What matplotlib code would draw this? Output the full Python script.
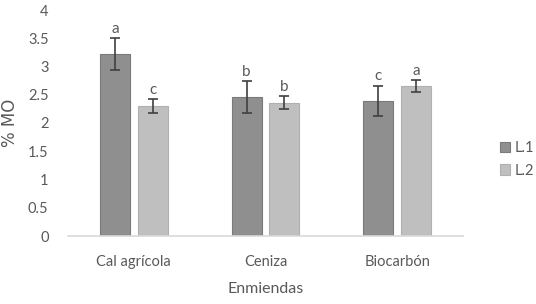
import matplotlib
matplotlib.use("Agg")
import matplotlib.pyplot as plt
import numpy as np

plt.rcParams['font.family'] = ['Lato', 'DejaVu Sans']

categories = ["Cal agrícola", "Ceniza", "Biocarbón"]
series_names = ["L.1", "L.2"]
l1_values = [3.22, 2.46, 2.39]
l2_values = [2.30, 2.36, 2.65]
l1_err = [0.28, 0.28, 0.27]
l2_err = [0.12, 0.11, 0.11]
l1_letters = ["a", "b", "c"]
l2_letters = ["c", "b", "a"]
y_ticks = [0, 0.5, 1, 1.5, 2, 2.5, 3, 3.5, 4]

txt = "#595959"
fig = plt.figure(figsize=(5.36, 3.04), dpi=100)
ax = fig.add_axes([68/536, 68/304, (463-68)/536, (236-10)/304])

x = np.arange(len(categories))
w = 0.228
off = 0.144
colors = ["#8f8f8f", "#bfbfbf"]
edges = ["#7a7a7a", "#b0b0b0"]

for vals, errs, letters, sign, c, e, name in [
        (l1_values, l1_err, l1_letters, -1, colors[0], edges[0], series_names[0]),
        (l2_values, l2_err, l2_letters, 1, colors[1], edges[1], series_names[1])]:
    pos = x + sign * off
    ax.bar(pos, vals, width=w, color=c, edgecolor=e, linewidth=0.8, label=name)
    ax.errorbar(pos, vals, yerr=errs, fmt='none', ecolor="#404040",
                elinewidth=1.2, capsize=3.5, capthick=1.2)
    for p, v, er, lt in zip(pos, vals, errs, letters):
        ax.text(p, v + er + 0.04, lt, ha='center', va='bottom', fontsize=11, color=txt)

ax.set_xlim(-0.5, 2.5)
ax.set_ylim(0, 4)
ax.set_yticks(y_ticks)
ax.set_yticklabels([f"{t:g}" for t in y_ticks])
ax.set_xticks(x)
ax.set_xticklabels(categories)
ax.tick_params(axis='both', length=0, labelsize=10.5, colors=txt)
ax.tick_params(axis='x', pad=14)
ax.tick_params(axis='y', pad=14)
for s in ["top", "right", "left"]:
    ax.spines[s].set_visible(False)
ax.spines["bottom"].set_color("#d9d9d9")
ax.spines["bottom"].set_linewidth(1.2)

ax.set_ylabel("% MO", fontsize=12, color=txt, family=['DejaVu Sans'])
ax.yaxis.set_label_coords(-0.125, 0.5)
ax.set_xlabel("Enmiendas", fontsize=11.5, color=txt, labelpad=9)

leg = ax.legend(loc='center left', bbox_to_anchor=(1.06, 0.34), frameon=False,
                fontsize=10.5, handlelength=0.7, handleheight=0.7, handletextpad=0.3,
                labelspacing=0.6, labelcolor=txt)

fig.savefig("out.png", dpi=100)
